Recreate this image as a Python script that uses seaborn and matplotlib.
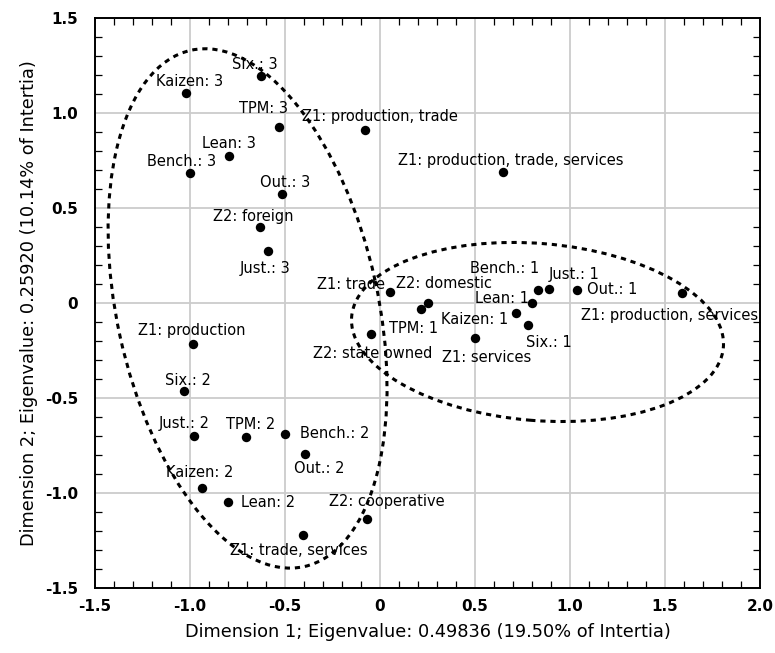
import matplotlib
matplotlib.use("Agg")
import matplotlib.pyplot as plt
import seaborn as sns
import pandas as pd
from matplotlib.patches import Ellipse
from matplotlib.ticker import MultipleLocator

# category labels and their coordinates (dimension 1 / dimension 2)
labels = [
    "Kaizen: 3", "Six.: 3", "TPM: 3", "Lean: 3", "Bench.: 3", "Out.: 3",
    "Z2: foreign", "Just.: 3", "Z1: production, trade",
    "Z1: production, trade, services", "Z1: trade", "Z2: domestic", "TPM: 1",
    "Z2: state owned", "Z1: services", "Kaizen: 1", "Six.: 1", "Lean: 1",
    "Bench.: 1", "Just.: 1", "Out.: 1", "Z1: production, services",
    "Z1: production", "Six.: 2", "Just.: 2", "TPM: 2", "Bench.: 2", "Out.: 2",
    "Kaizen: 2", "Lean: 2", "Z2: cooperative", "Z1: trade, services",
]
dim1 = [
    -1.021, -0.625, -0.533, -0.793, -1.000, -0.514,
    -0.632, -0.588, -0.077,
    0.649, 0.054, 0.251, 0.216,
    -0.047, 0.498, 0.717, 0.781, 0.798,
    0.830, 0.891, 1.035, 1.588,
    -0.986, -1.032, -0.979, -0.705, -0.498, -0.395,
    -0.935, -0.798, -0.067, -0.407,
]
dim2 = [
    1.108, 1.196, 0.929, 0.777, 0.686, 0.577,
    0.400, 0.277, 0.911,
    0.689, 0.061, 0.000, -0.028,
    -0.162, -0.184, -0.049, -0.114, 0.000,
    0.070, 0.075, 0.070, 0.056,
    -0.214, -0.462, -0.698, -0.704, -0.688, -0.792,
    -0.972, -1.047, -1.135, -1.218,
]

xlabel = "Dimension 1; Eigenvalue: 0.49836 (19.50% of Intertia)"
ylabel = "Dimension 2; Eigenvalue: 0.25920 (10.14% of Intertia)"

df = pd.DataFrame({"label": labels, "dim1": dim1, "dim2": dim2})

# label placement (pixel offsets from the point, x right / y down)
label_offsets = {
    "Kaizen: 3": (4, -11), "Six.: 3": (-6, -12), "TPM: 3": (-15, -18),
    "Lean: 3": (0, -12), "Bench.: 3": (-8, -11), "Out.: 3": (3, -11),
    "Z2: foreign": (-7, -11), "Just.: 3": (-3, 18),
    "Z1: production, trade": (15, -14),
    "Z1: production, trade, services": (7, -12),
    "Z1: trade": (-39, -7), "Z2: domestic": (16, -20), "TPM: 1": (-7, 20),
    "Z2: state owned": (2, 19), "Z1: services": (12, 19),
    "Kaizen: 1": (-42, 7), "Six.: 1": (20, 18), "Lean: 1": (-30, -5),
    "Bench.: 1": (-33, -21), "Just.: 1": (25, -15), "Out.: 1": (36, 0),
    "Z1: production, services": (-12, 23),
    "Z1: production": (-1, -13), "Six.: 2": (4, -11), "Just.: 2": (-10, -12),
    "TPM: 2": (5, -13), "Bench.: 2": (49, -1), "Out.: 2": (14, 15),
    "Kaizen: 2": (-3, -15), "Lean: 2": (40, 0), "Z2: cooperative": (20, -17),
    "Z1: trade, services": (-4, 16),
}

sns.set_style("white")
plt.rcParams["font.family"] = ["DejaVu Sans"]
plt.rcParams["text.color"] = "black"
plt.rcParams["axes.labelcolor"] = "black"
plt.rcParams["xtick.color"] = "black"
plt.rcParams["ytick.color"] = "black"

fig = plt.figure(figsize=(7.75, 6.53), dpi=100)
ax = fig.add_axes([95 / 775, 1 - 588.3 / 653, 665 / 775, 570 / 653])

sns.scatterplot(data=df, x="dim1", y="dim2", ax=ax, color="black",
                s=46, edgecolor="black", linewidth=0, zorder=3, legend=False)

for lab, x, y in zip(df["label"], df["dim1"], df["dim2"]):
    dx, dy = label_offsets[lab]
    ax.annotate(lab, (x, y), xytext=(dx, -dy), textcoords="offset pixels",
                ha="center", va="center", fontsize=10.5, color="black", zorder=4)

# grouping ellipses
dash_style = dict(fill=False, edgecolor="black", linewidth=2.2,
                  linestyle=(0, (1.7, 1.6)), zorder=2)
ax.add_patch(Ellipse((-0.697, -0.027), 2.782, 1.374, angle=102.35, **dash_style))
ax.add_patch(Ellipse((0.829, -0.151), 1.963, 0.932, angle=-4.7, **dash_style))

ax.set_xlim(-1.5, 2.0)
ax.set_ylim(-1.5, 1.5)
ax.xaxis.set_minor_locator(MultipleLocator(0.1))
ax.yaxis.set_minor_locator(MultipleLocator(0.1))
ax.set_xticks([-1.5, -1.0, -0.5, 0, 0.5, 1.0, 1.5, 2.0])
ax.set_xticklabels(["-1.5", "-1.0", "-0.5", "0", "0.5", "1.0", "1.5", "2.0"])
ax.set_yticks([-1.5, -1.0, -0.5, 0, 0.5, 1.0, 1.5])
ax.set_yticklabels(["-1.5", "-1.0", "-0.5", "0", "0.5", "1.0", "1.5"])
ax.grid(True, which="major", color="#cccccc", linewidth=1.3, zorder=0)
ax.set_axisbelow(True)

ax.tick_params(which="both", direction="in", top=True, right=True,
               bottom=True, left=True, color="black")
ax.tick_params(axis="x", which="major", length=0, labelsize=11, pad=8)
ax.tick_params(axis="y", which="major", length=0, labelsize=11, pad=12)
ax.tick_params(which="minor", length=5, width=0.9)
for t in ax.get_xticklabels() + ax.get_yticklabels():
    t.set_fontweight("bold")

for sp in ax.spines.values():
    sp.set_color("black")
    sp.set_linewidth(1.4)

ax.set_xlabel(xlabel, fontsize=12.8, labelpad=6)
ax.set_ylabel(ylabel, fontsize=12.8, labelpad=5)

plt.savefig("out.png", dpi=100)
plt.close()
